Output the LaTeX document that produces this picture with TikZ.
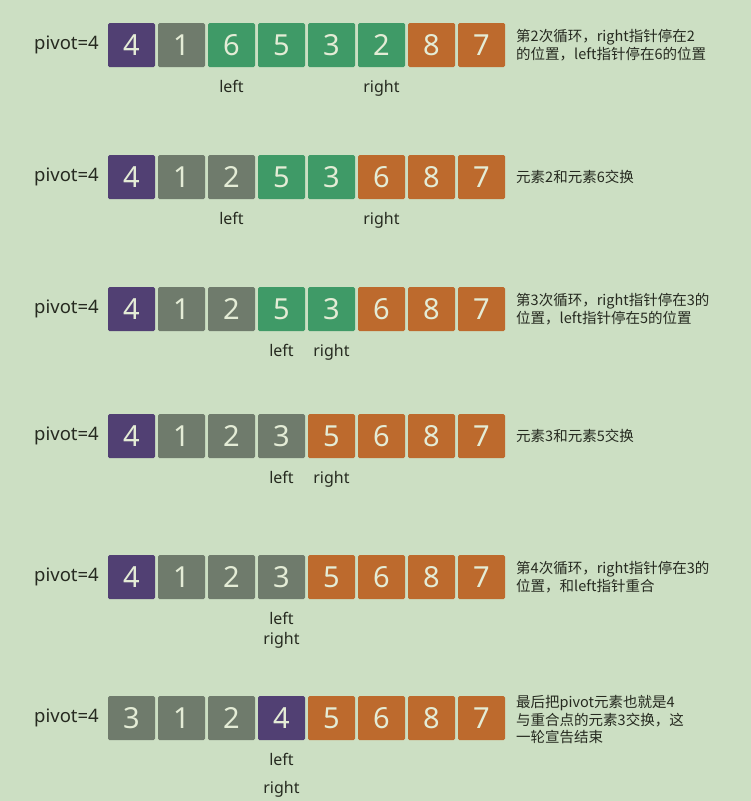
\documentclass[tikz,border=0pt]{standalone}
\usepackage{fontspec}
\setmainfont{Noto Sans}
\newfontfamily\cjk{Noto Sans CJK SC}
\usetikzlibrary{positioning}

\definecolor{bgcol}{HTML}{CCDFC3}
\definecolor{pv}{HTML}{514073}
\definecolor{gy}{HTML}{6F7B6C}
\definecolor{gn}{HTML}{3F9A67}
\definecolor{og}{HTML}{BD6A2D}
\definecolor{digit}{HTML}{E4ECD6}
\definecolor{ink}{HTML}{262A20}

% one row of cells: name, y, list of value/colour
\newcommand\cellrow[3]{%
  \node[pivlabel] (#1p) at (99,#2-2) {pivot=4};
  \foreach \v/\c [count=\i] in {#3} {
    \node[cell,fill=\c] (#1\i) at ({131.5+50*(\i-1)},#2) {\v};
  }
}

\begin{document}
\begin{tikzpicture}[x=1pt,y=-1pt]
  \tikzstyle{cell}=[minimum width=47pt,minimum height=44pt,inner sep=0pt,rounded corners=1.5pt,text=digit,font=\fontsize{29}{29}\selectfont]
  \tikzstyle{pivlabel}=[anchor=east,inner sep=0pt,text height=13pt,text depth=0pt,text=ink,font=\fontsize{18.5}{18.5}\selectfont]
  \tikzstyle{ptr}=[inner sep=0pt,text height=12pt,text depth=3pt,text=ink,font=\fontsize{16}{16}\selectfont]
  \tikzstyle{note}=[anchor=west,inner sep=0pt,align=left,text=ink,font=\cjk\fontsize{14.5}{17.5}\selectfont]

  \fill[bgcol] (0,0) rectangle (751,801);
  \useasboundingbox (0,0) rectangle (751,801);

  \cellrow{a}{45}{4/pv,1/gy,6/gn,5/gn,3/gn,2/gn,8/og,7/og}
  \node[ptr] (aleft)  [below=13.5pt of a3] {left};
  \node[ptr] (aright) [below=13.5pt of a6] {right};
  \node[note] (anote) at (516,45) {第2次循环，right指针停在2\\的位置，left指针停在6的位置};

  \cellrow{b}{177}{4/pv,1/gy,2/gy,5/gn,3/gn,6/og,8/og,7/og}
  \node[ptr] (bleft)  [below=13.5pt of b3] {left};
  \node[ptr] (bright) [below=13.5pt of b6] {right};
  \node[note] (bnote) at (516,177) {元素2和元素6交换};

  \cellrow{c}{309}{4/pv,1/gy,2/gy,5/gn,3/gn,6/og,8/og,7/og}
  \node[ptr] (cleft)  [below=13.5pt of c4] {left};
  \node[ptr] (cright) [below=13.5pt of c5] {right};
  \node[note] (cnote) at (516,309) {第3次循环，right指针停在3的\\位置，left指针停在5的位置};

  \cellrow{d}{436}{4/pv,1/gy,2/gy,3/gy,5/og,6/og,8/og,7/og}
  \node[ptr] (dleft)  [below=13.5pt of d4] {left};
  \node[ptr] (dright) [below=13.5pt of d5] {right};
  \node[note] (dnote) at (516,436) {元素3和元素5交换};

  \cellrow{e}{577}{4/pv,1/gy,2/gy,3/gy,5/og,6/og,8/og,7/og}
  \node[ptr] (eleft)  [below=13.5pt of e4] {left};
  \node[ptr] (eright) [below=4pt of eleft] {right};
  \node[note] (enote) at (516,577) {第4次循环，right指针停在3的\\位置，和left指针重合};

  \cellrow{f}{718}{3/gy,1/gy,2/gy,4/pv,5/og,6/og,8/og,7/og}
  \node[ptr] (fleft)  [below=13.5pt of f4] {left};
  \node[ptr] (fright) [below=12pt of fleft] {right};
  \node[note] (fnote) at (516,720) {最后把pivot元素也就是4\\与重合点的元素3交换，这\\一轮宣告结束};
\end{tikzpicture}
\end{document}
